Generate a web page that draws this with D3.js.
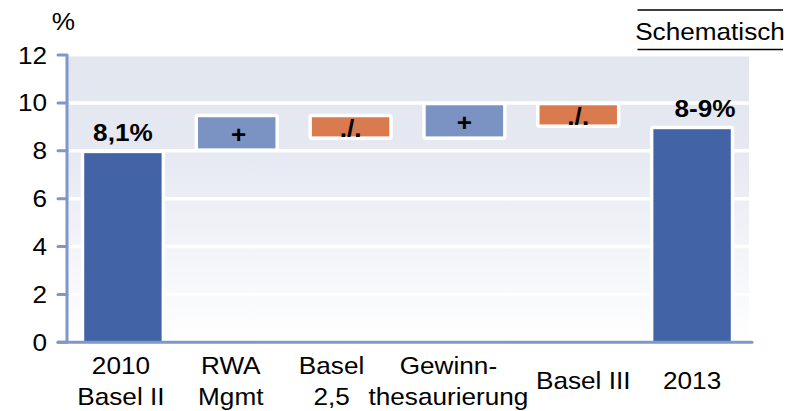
<!DOCTYPE html>
<html><head><meta charset="utf-8">
<script src="https://cdn.jsdelivr.net/npm/d3@7"></script>
<style>
html,body{margin:0;padding:0;background:#fff;}
svg text{font-family:Arial,"Liberation Sans",sans-serif;fill:#000;}
</style></head>
<body>
<svg id="chart" width="801" height="411"></svg>
<script>
// ---- data ----
const categories = [["2010","Basel II"],["RWA","Mgmt"],["Basel","2,5"],["Gewinn-","thesaurierung"],["Basel III"],["2013"]];
const barStart = [0, 8.1, 8.6, 8.6, 9.1, 0];
const barEnd   = [7.9, 9.4, 9.4, 9.9, 9.9, 8.9];
const barKind  = ["total","plus","minus","plus","minus","total"];
const barLabels = ["8,1%","+","./.","+","./.","8-9%"];
const yTicks = [0,2,4,6,8,10,12];
const unitLabel = "%";
const noteLabel = "Schematisch";

// ---- layout / style ----
const colors = {total:"#4263a6", plus:"#7a93c3", minus:"#d97a4f"};
const axisColor = "#7f97c9";
const catDx = [-2,-6,-19,-16,5,0];
const valDx = [0,2,0,0,0,13];
const sx = 1.09; // horizontal text stretch

const svg = d3.select("#chart");
const x = d3.scaleBand().domain(d3.range(categories.length)).range([66,749]).paddingInner(0.32).paddingOuter(0.16);
const y = d3.scaleLinear().domain([0,12]).range([342.3,55]);

function stretchedText(sel, px, py){
  return sel.attr("transform", `translate(${px},${py}) scale(${sx},1)`);
}

// background gradient
const defs = svg.append("defs");
const grad = defs.append("linearGradient").attr("id","bg").attr("x1",0).attr("y1",0).attr("x2",0).attr("y2",1);
grad.append("stop").attr("offset","0%").attr("stop-color","#e2e6ef");
grad.append("stop").attr("offset","35%").attr("stop-color","#e6e9f2");
grad.append("stop").attr("offset","100%").attr("stop-color","#ffffff");
svg.append("rect").attr("x",66).attr("y",y(12)+1.5).attr("width",749-66).attr("height",y(0)-y(12)-1.5).attr("fill","url(#bg)");

// gridlines
svg.append("g").selectAll("line").data(yTicks.filter(t=>t>0&&t<12)).join("line")
  .attr("x1",66).attr("x2",749).attr("y1",d=>y(d)).attr("y2",d=>y(d))
  .attr("stroke","#fff").attr("stroke-width",3.5);

// bars
svg.append("g").selectAll("rect").data(d3.range(categories.length)).join("rect")
  .attr("x",i=>x(i)).attr("width",x.bandwidth())
  .attr("y",i=>y(barEnd[i])).attr("height",i=>y(barStart[i])-y(barEnd[i]))
  .attr("fill",i=>colors[barKind[i]])
  .attr("stroke","#fff").attr("stroke-width",7).attr("stroke-linejoin","round")
  .style("paint-order","stroke");

// bar labels
const lab = svg.append("g");
d3.range(categories.length).forEach(i=>{
  const cx = x(i)+x.bandwidth()/2+valDx[i];
  let py;
  if(barKind[i]==="total") py = y(barEnd[i]) - 12;
  else if(barKind[i]==="plus") py = y(barStart[i]) - 5;
  else py = y(barStart[i]) + 1;
  stretchedText(lab.append("text"), cx, py)
    .attr("text-anchor","middle").attr("font-weight","bold")
    .attr("font-size", barKind[i]==="total" ? 24 : 24)
    .text(barLabels[i]);
});

// y axis
const ya = svg.append("g");
ya.append("line").attr("x1",67).attr("x2",67).attr("y1",y(12)).attr("y2",y(0))
  .attr("stroke",axisColor).attr("stroke-width",3);
ya.selectAll("line.tick").data(yTicks).join("line").attr("class","tick")
  .attr("x1",58).attr("x2",67).attr("y1",d=>y(d)).attr("y2",d=>y(d))
  .attr("stroke",axisColor).attr("stroke-width",3).attr("stroke-linecap","round");
yTicks.forEach(t=>{
  stretchedText(ya.append("text"), 47, y(t)+8.5).attr("text-anchor","end").attr("font-size",24).text(t);
});
stretchedText(svg.append("text"), 63.5, 30).attr("text-anchor","middle").attr("font-size",24).text(unitLabel);

// x axis
svg.append("line").attr("x1",58).attr("x2",752).attr("y1",y(0)).attr("y2",y(0))
  .attr("stroke",axisColor).attr("stroke-width",3).attr("stroke-linecap","round");

// category labels
const cl = svg.append("g");
categories.forEach((lines,i)=>{
  const cx = x(i)+x.bandwidth()/2+catDx[i];
  if(lines.length===2){
    stretchedText(cl.append("text"), cx, 373.5).attr("text-anchor","middle").attr("font-size",24).text(lines[0]);
    stretchedText(cl.append("text"), cx, 405).attr("text-anchor","middle").attr("font-size",24).text(lines[1]);
  } else {
    stretchedText(cl.append("text"), cx, 389).attr("text-anchor","middle").attr("font-size",24).text(lines[0]);
  }
});

// note
stretchedText(svg.append("text"), 710, 39.5).attr("text-anchor","middle").attr("font-size",24).text(noteLabel);
svg.append("line").attr("x1",637.5).attr("x2",783).attr("y1",10).attr("y2",10).attr("stroke","#000").attr("stroke-width",1.6);
svg.append("line").attr("x1",637.5).attr("x2",783).attr("y1",49.5).attr("y2",49.5).attr("stroke","#000").attr("stroke-width",1.6);
</script>
</body></html>
